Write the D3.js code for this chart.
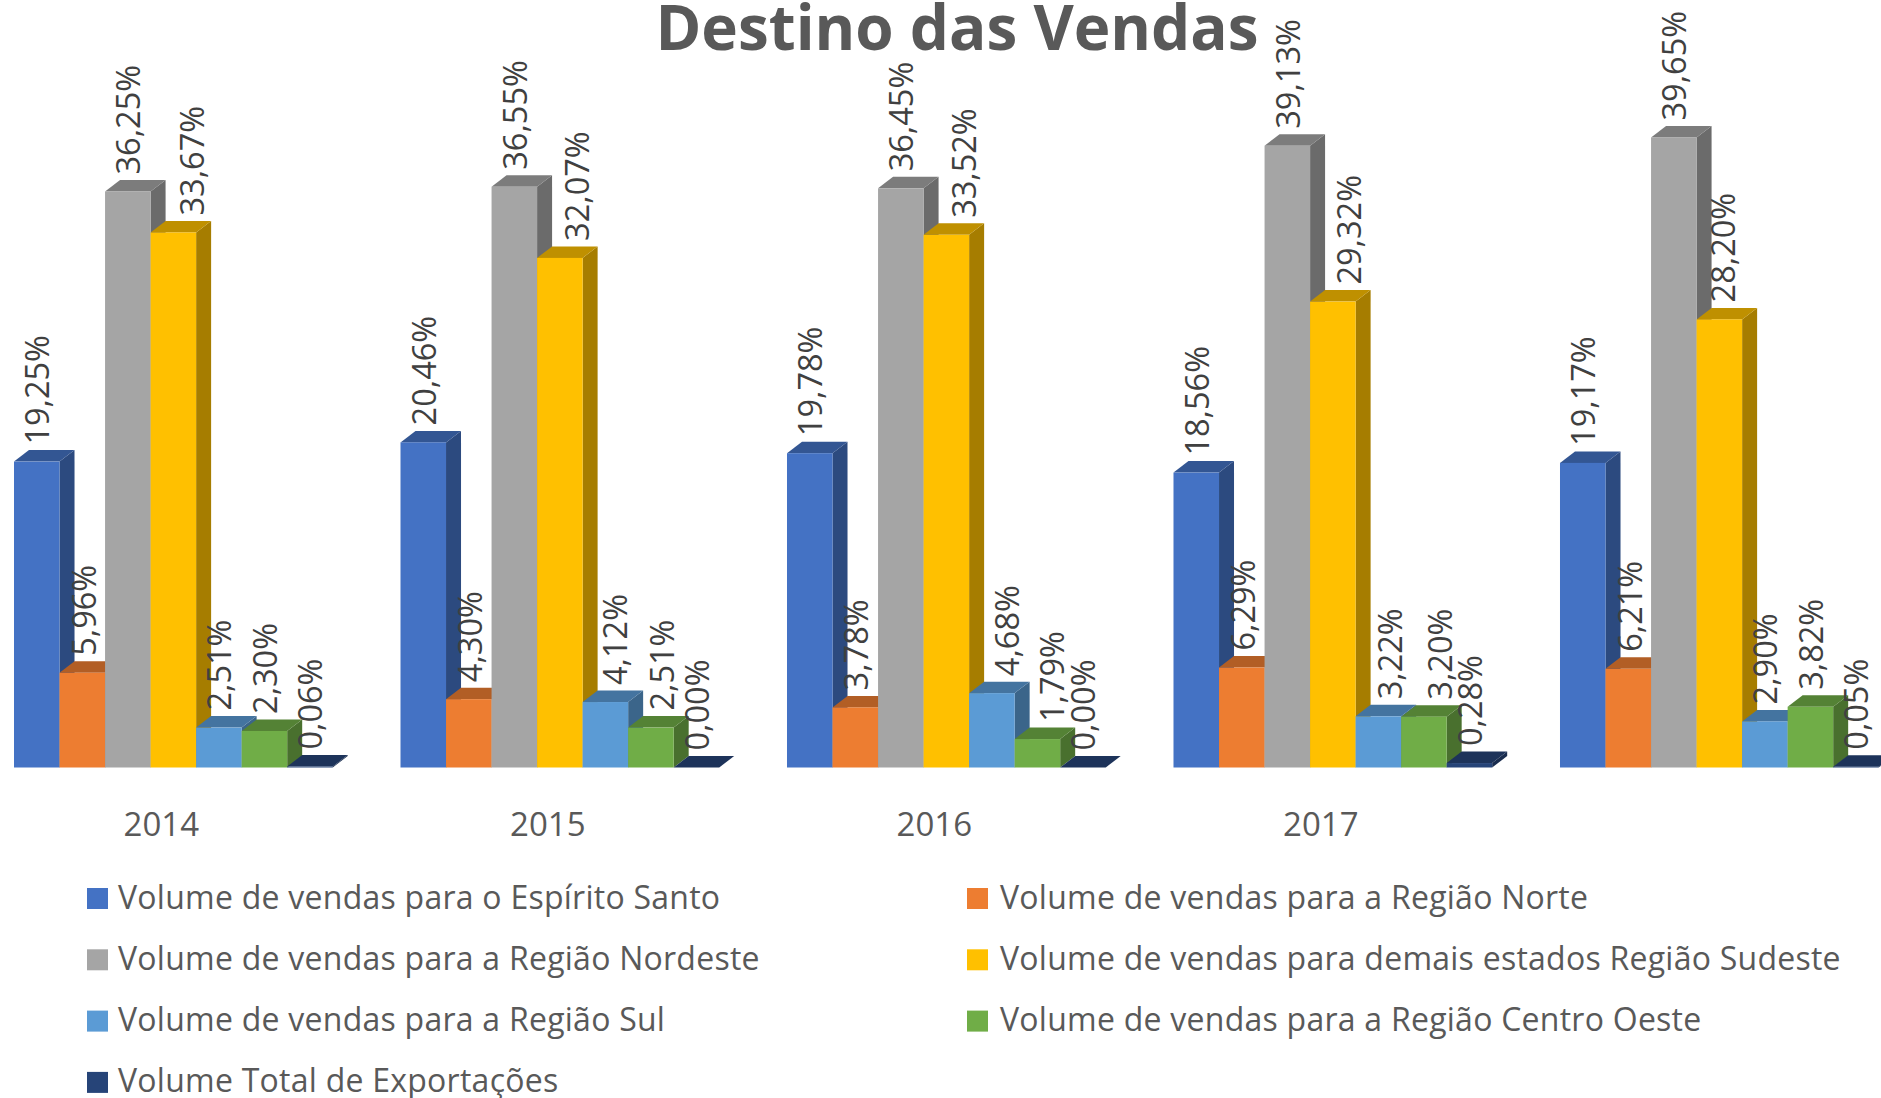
<!DOCTYPE html>
<html>
<head>
<meta charset="utf-8" />
<title>Destino das Vendas</title>
<script src="https://d3js.org/d3.v7.min.js"></script>
<style>
	body { margin: 0; background: #fff; }
	svg { display: block; }
	text { font-family: "Open Sans", sans-serif; }
</style>
</head>
<body>
<script>
	// the fifth year has no label in the original
	const years = ["2014", "2015", "2016", "2017", ""];
	const espiritoSanto = [19.25, 20.46, 19.78, 18.56, 19.17];
	const norte = [5.96, 4.30, 3.78, 6.29, 6.21];
	const nordeste = [36.25, 36.55, 36.45, 39.13, 39.65];
	const sudeste = [33.67, 32.07, 33.52, 29.32, 28.20];
	const sul = [2.51, 4.12, 4.68, 3.22, 2.90];
	const centroOeste = [2.30, 2.51, 1.79, 3.20, 3.82];
	const exportacoes = [0.06, 0.00, 0.00, 0.28, 0.05];

	const seriesNames = [
		"Volume de vendas para o Espírito Santo",
		"Volume de vendas para a Região Norte",
		"Volume de vendas para a Região Nordeste",
		"Volume de vendas para demais estados Região Sudeste",
		"Volume de vendas para a Região Sul",
		"Volume de vendas para a Região Centro Oeste",
		"Volume Total de Exportações"
	];
	const seriesColors = ["#4472C4", "#ED7D31", "#A5A5A5", "#FFC000", "#5B9BD5", "#70AD47", "#264478"];
	const seriesValues = [espiritoSanto, norte, nordeste, sudeste, sul, centroOeste, exportacoes];

	// some data labels were dragged sideways in the original: px per series, per year
	const labelShift = [
		[0, 0, 0, 0, 0],
		[1, 0.5, 0.5, 0.3, 1],
		[0, 0, 0, 0, 0],
		[17.7, 17, 17, 16, 3],
		[0, 9, 15, 11, 0],
		[0, 11, 13.7, 15.5, 0],
		[0, 0.5, 0, 0, 0]
	];

	const width = 1881;
	const height = 1098;
	const baseY = 767.5;
	const depthX = 15;
	const depthY = 11.5;

	const svg = d3.select("body").append("svg")
		.attr("width", width)
		.attr("height", height);

	const x0 = d3.scaleBand()
		.domain(years)
		.range([14, 1878.7])
		.paddingInner(0.1754);
	const x1 = d3.scaleBand()
		.domain(d3.range(seriesNames.length))
		.range([0, x0.bandwidth()]);
	const y = d3.scaleLinear()
		.domain([0, 40])
		.range([baseY, baseY - 40 * 15.89]);

	const shade = (color, k) => {
		const c = d3.rgb(color);
		return d3.rgb(c.r * k, c.g * k, c.b * k).formatHex();
	};
	const pct = d3.formatLocale({decimal: ",", thousands: ".", grouping: [3], currency: ["", ""]}).format(".2f");

	svg.append("text")
		.attr("x", 957)
		.attr("y", 50)
		.attr("text-anchor", "middle")
		.attr("font-size", 62)
		.attr("font-weight", 700)
		.attr("fill", "#595959")
		.text("Destino das Vendas");

	const rows = [];
	seriesValues.forEach((vals, s) => {
		vals.forEach((v, i) => rows.push({s: s, i: i, year: years[i], value: v}));
	});

	const bar = svg.append("g").selectAll("g")
		.data(rows)
		.enter()
		.append("g")
		.attr("transform", d => "translate(" + (x0(d.year) + x1(d.s)) + ",0)");

	const w = x1.bandwidth();
	bar.append("polygon")
		.attr("points", d => [[w, y(d.value)], [w + depthX, y(d.value) - depthY], [w + depthX, baseY - depthY], [w, baseY]].join(" "))
		.attr("fill", d => shade(seriesColors[d.s], 0.65));
	bar.append("polygon")
		.attr("points", d => [[0, y(d.value)], [depthX, y(d.value) - depthY], [w + depthX, y(d.value) - depthY], [w, y(d.value)]].join(" "))
		.attr("fill", d => shade(seriesColors[d.s], 0.75));
	bar.append("rect")
		.attr("width", w)
		.attr("y", d => y(d.value))
		.attr("height", d => baseY - y(d.value))
		.attr("fill", d => seriesColors[d.s]);

	svg.append("g").selectAll("text")
		.data(rows)
		.enter()
		.append("text")
		.attr("transform", d => "translate(" + (x0(d.year) + x1(d.s) + w / 2 + 12.5 + labelShift[d.s][d.i]) + "," + (y(d.value) - depthY - 5.5) + ") rotate(-90)")
		.attr("font-size", 32.5)
		.attr("fill", "#404040")
		.text(d => pct(d.value) + "%");

	const axis = svg.append("g")
		.attr("transform", "translate(-12," + (baseY + 68) + ")")
		.call(d3.axisBottom(x0).tickSize(0));
	axis.select(".domain").remove();
	axis.selectAll("text")
		.attr("y", 0)
		.attr("dy", 0)
		.attr("font-size", 33)
		.attr("font-family", "Open Sans")
		.attr("fill", "#595959");

	const legend = svg.append("g").selectAll("g")
		.data(seriesNames)
		.enter()
		.append("g")
		.attr("transform", (d, i) => "translate(" + (i % 2 ? 967 : 87) + "," + (888 + Math.floor(i / 2) * 61.3) + ")");
	legend.append("rect")
		.attr("width", 21)
		.attr("height", 21)
		.attr("fill", (d, i) => seriesColors[i]);
	legend.append("text")
		.attr("x", (d, i) => i % 2 ? 33 : 31)
		.attr("y", 20.5)
		.attr("font-size", 32)
		.attr("letter-spacing", 0.25)
		.attr("fill", "#595959")
		.text(d => d);
</script>
</body>
</html>
